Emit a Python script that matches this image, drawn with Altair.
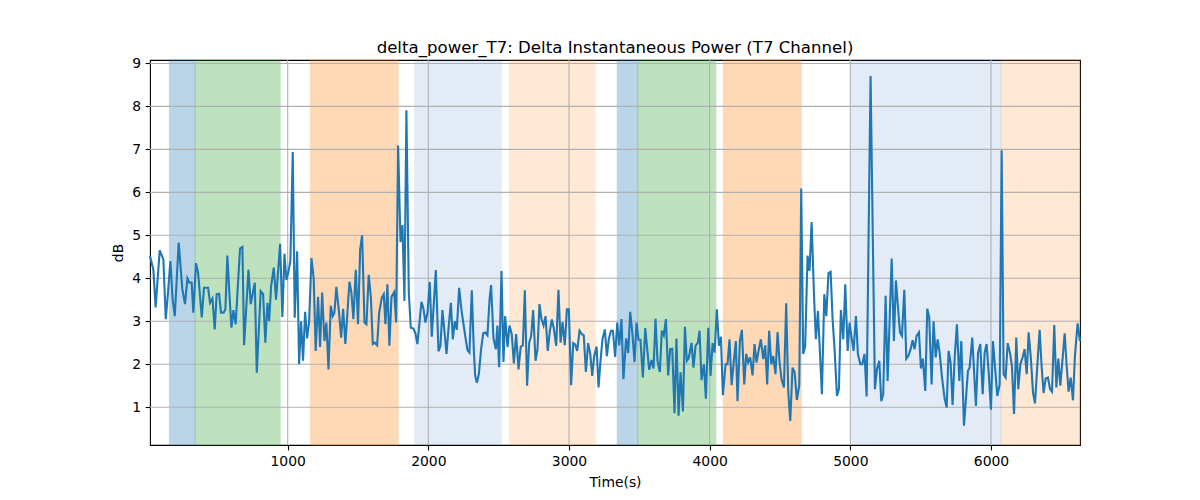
import altair as alt
import pandas as pd

# ---- data ----
times = [21, 45, 61, 90, 116, 133, 149, 166, 182, 197, 225, 251, 270, 287, 301, 317, 329, 348, 363, 389,
         405, 434, 448, 465, 481, 495, 512, 526, 545, 557, 571, 585, 600, 614, 630, 661, 678, 690, 721, 737,
         766, 780, 808, 825, 841, 856,
         868, 882, 901, 917, 946, 962, 977, 991, 1005, 1019, 1036, 1050, 1067, 1081, 1095, 1109, 1124, 1138,
         1152, 1169, 1185, 1199, 1216, 1230, 1245, 1261, 1275, 1290, 1306, 1320, 1332, 1346, 1365, 1380, 1394,
         1410, 1439, 1453, 1467, 1484, 1500, 1515, 1529, 1546, 1560, 1576, 1591, 1605, 1619, 1636, 1650, 1669,
         1683,
         1695, 1709, 1723, 1738, 1757, 1771, 1785, 1802, 1816, 1830, 1844, 1861, 1875, 1894, 1908, 1922, 1937,
         1951, 1965, 1979, 1994, 2010, 2024, 2039, 2053, 2072, 2086, 2100, 2115, 2129, 2145, 2160, 2174, 2188,
         2202, 2219, 2235, 2250, 2264, 2278, 2292, 2309, 2323, 2333, 2345, 2359, 2375, 2390, 2404, 2420, 2435,
         2446, 2463, 2480, 2491, 2503, 2520, 2534,
         2546, 2563, 2577, 2593, 2608, 2624, 2641, 2657, 2672, 2686, 2702, 2717, 2731, 2745, 2762, 2776, 2790,
         2804, 2819, 2833, 2849, 2864, 2878, 2892, 2909, 2925, 2940, 2954, 2970, 2985, 2999, 3015, 3030, 3044,
         3058, 3075, 3091, 3105, 3120, 3136, 3151, 3165, 3179, 3196, 3210, 3224, 3238, 3255, 3269, 3283, 3298,
         3312, 3328, 3343, 3357,
         3373, 3387, 3406, 3421, 3435, 3451, 3466, 3480, 3494, 3508, 3525, 3542, 3556, 3570, 3587, 3601, 3615,
         3629, 3646, 3660, 3674, 3689, 3705, 3719, 3734, 3750, 3764, 3779, 3793, 3810, 3824, 3838, 3852, 3871,
         3885, 3900, 3916, 3928, 3942, 3959, 3973, 3990, 4006, 4021, 4035, 4051, 4066, 4080, 4094, 4113, 4127,
         4141, 4156, 4172, 4186,
         4198, 4215, 4229, 4246, 4260, 4274, 4288, 4305, 4319, 4333, 4350, 4364, 4381, 4395, 4409, 4423, 4438,
         4452, 4468, 4483, 4497, 4511, 4528, 4544, 4559, 4573, 4589, 4604, 4620, 4637, 4651, 4665, 4679, 4696,
         4710, 4725, 4741, 4755, 4770, 4784, 4798, 4815, 4829, 4845, 4860, 4874, 4888, 4905, 4919, 4933, 4950,
         4964, 4981,
         4995, 5009, 5023, 5040, 5054, 5071, 5085, 5101, 5116, 5144, 5175, 5189, 5206, 5220, 5234, 5251, 5265,
         5279, 5294, 5310, 5324, 5339, 5353, 5367, 5384, 5398, 5412, 5429, 5443, 5457, 5471, 5488, 5502, 5516,
         5533, 5547, 5561, 5578, 5592, 5607, 5621, 5635, 5652, 5671, 5685, 5699, 5713, 5727, 5742, 5758, 5775,
         5789,
         5808, 5822, 5836, 5848, 5867, 5879, 5893, 5908, 5924, 5941, 5955, 5969, 5983, 6000, 6014, 6031, 6045,
         6062, 6076, 6090, 6104, 6119, 6135, 6149, 6164, 6180, 6194, 6209, 6225, 6239, 6254, 6268, 6284, 6299,
         6313, 6327, 6346, 6360, 6374, 6389, 6405, 6420, 6434, 6450, 6465, 6479, 6493, 6507, 6524, 6538, 6552,
         6567, 6583, 6597, 6616, 6633]

power_db = [4.52, 4.2, 3.32, 4.65, 4.44, 3.05, 3.67, 4.4, 3.5, 3.12, 4.83, 3.74, 3.4, 4.0, 3.9, 3.9, 3.2, 4.35,
            4.13, 3.09, 3.78, 3.78, 3.43, 3.53, 2.81, 3.63, 3.64, 3.2, 3.2, 3.28, 4.53, 3.67, 2.85, 3.26, 2.93,
            4.69, 4.73, 2.44, 4.2, 3.4, 3.9, 1.8, 3.7, 3.63, 2.5, 3.43,
            3.0, 3.82, 4.25, 3.5, 4.8, 3.1, 4.57, 3.96, 4.15, 4.4, 6.94, 3.08, 4.63, 2.0, 3.0, 2.08, 3.22, 2.6,
            2.98, 4.47, 3.98, 2.31, 3.57, 2.4, 3.67, 2.54, 2.97, 1.88, 3.36, 3.12, 3.2, 3.8, 3.2, 2.62, 3.29,
            2.47, 3.92, 3.67, 3.05, 4.2, 2.93, 4.67, 5.0, 2.97, 2.93, 4.08, 3.58, 2.47, 2.5, 2.44, 3.19, 3.55,
            3.63,
            2.93, 3.86, 2.43, 3.57, 3.68, 2.97, 7.09, 4.84, 5.24, 3.47, 7.91, 3.67, 2.85, 2.83, 2.72, 2.47, 2.97,
            3.45, 3.3, 2.97, 3.2, 3.91, 2.64, 3.42, 4.19, 2.3, 2.43, 3.26, 2.74, 2.24, 2.9, 3.43, 2.58, 3.0,
            2.8, 3.78, 3.27, 2.93, 2.62, 2.33, 2.27, 3.72, 2.35, 1.73, 1.57, 1.77, 2.35, 2.72, 2.74, 2.67, 3.5,
            3.84, 2.6, 2.35, 2.9, 1.93, 4.17, 2.05,
            3.12, 2.4, 2.9, 2.7, 2.02, 2.7, 1.88, 2.41, 2.44, 3.72, 1.5, 2.5, 2.66, 3.26, 2.08, 2.35, 3.4,
            3.05, 2.9, 3.12, 2.31, 2.78, 3.04, 2.83, 2.43, 3.73, 2.5, 2.98, 2.44, 3.28, 3.28, 1.51, 2.49, 2.46,
            2.31, 2.78, 2.7, 2.67, 1.82, 2.49, 2.24, 1.73, 2.18, 2.41, 1.46, 2.08, 2.58, 2.81, 2.19, 2.58, 2.78,
            2.78, 2.17, 2.97, 2.44,
            3.05, 1.65, 2.6, 2.26, 3.22, 2.7, 2.05, 2.97, 2.57, 2.57, 1.69, 2.84, 2.35, 1.87, 2.1, 1.9, 3.06,
            2.08, 1.82, 2.78, 2.67, 3.05, 1.74, 2.35, 2.36, 0.86, 2.6, 0.8, 1.81, 0.9, 2.87, 2.08, 2.15, 2.5,
            1.92, 2.43, 2.5, 2.78, 1.63, 2.0, 1.2, 2.85, 1.73, 2.49, 2.27, 3.28, 2.43, 2.64, 1.28, 2.0, 2.0,
            2.58, 1.51, 2.08, 2.54,
            1.14, 2.54, 2.8, 1.53, 2.24, 2.04, 2.16, 1.74, 2.47, 2.04, 2.35, 2.58, 2.12, 2.44, 1.53, 2.78, 2.0,
            2.19, 1.77, 2.75, 2.04, 1.65, 1.46, 3.42, 1.34, 0.68, 1.92, 1.81, 1.17, 1.5, 6.09, 2.24, 2.41, 4.53,
            4.17, 5.31, 3.68, 2.58, 3.24, 2.27, 1.3, 3.63, 3.12, 4.12, 4.15, 3.05, 2.35, 1.26, 1.42, 3.26, 2.58,
            3.86, 2.31,
            2.97, 2.62, 2.31, 3.12, 2.24, 2.0, 2.0, 2.24, 1.25, 8.71, 1.42, 1.88, 2.08, 1.14, 1.3, 3.59, 1.61,
            2.97, 4.46, 2.54, 3.95, 3.32, 2.74, 2.66, 3.73, 2.13, 2.19, 2.35, 2.56, 2.35, 2.66, 2.74, 1.9, 2.13,
            1.38, 3.29, 3.09, 1.53, 3.0, 2.16, 2.58, 2.27, 1.69, 1.19, 0.99, 2.31, 2.04, 1.05, 2.16, 2.93, 1.61,
            2.54,
            0.57, 1.19, 1.84, 1.92, 2.62, 1.88, 1.03, 2.26, 2.47, 1.3, 2.27, 2.47, 1.84, 0.94, 2.54, 1.84, 1.26,
            1.53, 6.98, 1.77, 1.69, 2.49, 2.27, 1.96, 0.84, 2.62, 1.42, 2.0, 2.16, 2.35, 1.77, 2.74, 2.12, 1.34,
            1.09, 1.84, 2.8, 1.96, 1.33, 1.67, 1.69, 1.42, 1.36, 2.91, 1.46, 2.13, 1.5, 2.04, 2.72, 1.97, 1.36,
            1.69, 1.16, 2.19, 2.95, 2.54]

span_start = [159, 341, 1161, 1903, 2577, 3343, 3489, 4097, 5007, 6071]
span_end = [341, 946, 1785, 2519, 3186, 3489, 4044, 4651, 6071, 6633]
span_kind = ["A", "B", "C", "D", "E", "A", "B", "C", "D", "E"]

kind_names = ["A", "B", "C", "D", "E"]
kind_colors = ["#1f77b4", "#2ca02c", "#ff7f0e", "#1e61bc", "#ff7f0e"]
kind_alpha = [0.3, 0.3, 0.3, 0.12, 0.17]

x_ticks = [1000, 2000, 3000, 4000, 5000, 6000]
y_ticks = [1, 2, 3, 4, 5, 6, 7, 8, 9]

X_DOMAIN = [21, 6633]
Y_DOMAIN = [0.12, 9.08]

line_df = pd.DataFrame({"t": times, "v": power_db})
alpha_of = dict(zip(kind_names, kind_alpha))
color_of = dict(zip(kind_names, kind_colors))
span_df = pd.DataFrame({
    "start": span_start,
    "end": span_end,
    "kind": span_kind,
    "alpha": [alpha_of[k] for k in span_kind],
    "col": [color_of[k] for k in span_kind],
})
xg_df = pd.DataFrame({"t": x_ticks})
yg_df = pd.DataFrame({"v": y_ticks})

W, H = 930, 385

x_axis = alt.Axis(values=x_ticks, format="d", grid=False, domain=False, tickSize=4.9,
                  labelPadding=4.5, titlePadding=7)
y_axis = alt.Axis(values=y_ticks, format="d", grid=False, domain=False, tickSize=4.9,
                  labelPadding=4.5, titlePadding=6)
xs = alt.Scale(domain=X_DOMAIN, nice=False, zero=False)
ys = alt.Scale(domain=Y_DOMAIN, nice=False, zero=False)

spans = alt.Chart(span_df).mark_rect(strokeWidth=1).encode(
    x=alt.X("start:Q", scale=xs, axis=x_axis, title="Time(s)"),
    x2="end:Q",
    y=alt.YDatum(Y_DOMAIN[0], scale=ys, axis=y_axis, title="dB"),
    y2=alt.Y2Datum(Y_DOMAIN[1]),
    fill=alt.Fill("col:N", scale=None),
    stroke=alt.Stroke("col:N", scale=None),
    opacity=alt.Opacity("alpha:Q", scale=None),
)

xgrid = alt.Chart(xg_df).mark_rule(color="#b0b0b0", strokeWidth=1.1).encode(
    x=alt.X("t:Q", scale=xs, axis=x_axis, title="Time(s)")
)
ygrid = alt.Chart(yg_df).mark_rule(color="#b0b0b0", strokeWidth=1.1).encode(
    y=alt.Y("v:Q", scale=ys, axis=y_axis, title="dB")
)

line = alt.Chart(line_df).mark_line(color="#1f77b4", strokeWidth=2.1).encode(
    x=alt.X("t:Q", scale=xs, axis=x_axis, title="Time(s)"),
    y=alt.Y("v:Q", scale=ys, axis=y_axis, title="dB"),
)

chart = alt.layer(spans, xgrid, ygrid, line).properties(
    width=W,
    height=H,
    title=alt.TitleParams("delta_power_T7: Delta Instantaneous Power (T7 Channel)",
                          anchor="middle", frame="group", baseline="alphabetic", offset=8.3, dy=21),
    autosize=alt.AutoSizeParams(type="none"),
    padding={"left": 142, "top": 52, "right": 100, "bottom": 47},
).configure_view(
    stroke="black", strokeWidth=1.1
).configure_axis(
    labelFont="DejaVu Sans", labelFontSize=13.9, labelColor="black",
    titleFont="DejaVu Sans", titleFontSize=13.9, titleFontWeight="normal", titleColor="black",
    tickColor="black", tickWidth=1.1,
).configure_title(
    font="DejaVu Sans", fontSize=16.6, fontWeight="normal", color="black"
)

chart.save("out.html", embed_options={"renderer": "svg", "actions": False})
